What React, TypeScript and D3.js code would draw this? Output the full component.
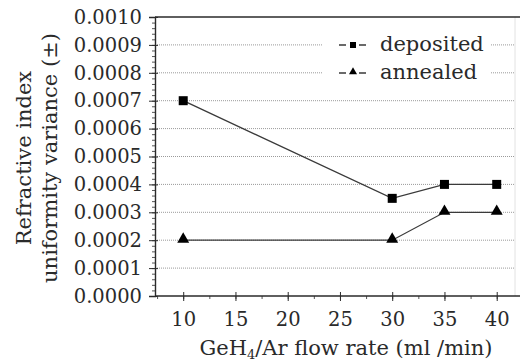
import { useEffect, useRef } from 'react';
import * as d3 from 'd3';

const flowRates = [10, 30, 35, 40];
const deposited = [0.0007, 0.00035, 0.0004, 0.0004];
const annealed = [0.0002, 0.0002, 0.0003, 0.0003];
const xTicks = [10, 15, 20, 25, 30, 35, 40];
const yTicks = [0, 0.0001, 0.0002, 0.0003, 0.0004, 0.0005, 0.0006, 0.0007, 0.0008, 0.0009, 0.001];
const seriesNames = ['deposited', 'annealed'];

const FONT = '"DejaVu Serif", "Liberation Serif", serif';
const TICK_FS = 19.5;
const LABEL_FS = 21;
const INK = '#2a2a2a';

const App = () => {
  const svgRef = useRef<SVGSVGElement | null>(null);

  useEffect(() => {
    if (!svgRef.current) return;
    const svg = d3.select(svgRef.current);
    svg.selectAll('*').remove();

    const left = 155, right = 515, top = 17, bottom = 296;

    const x = d3.scaleLinear().domain([7.3, 41.75]).range([left, right]);
    const y = d3.scaleLinear().domain([0, 0.001]).range([bottom, top]);

    // white background
    svg.append('rect').attr('width', 520).attr('height', 363).attr('fill', '#fff');

    // dotted gridlines
    svg.append('g')
      .selectAll('line')
      .data(yTicks.filter(t => t > 0 && t < 0.001))
      .enter()
      .append('line')
      .attr('x1', left)
      .attr('x2', right)
      .attr('y1', d => y(d))
      .attr('y2', d => y(d))
      .attr('stroke', '#9a9a9a')
      .attr('stroke-width', 1)
      .attr('stroke-dasharray', '1,1');

    // faint right border
    svg.append('line')
      .attr('x1', right).attr('x2', right)
      .attr('y1', top).attr('y2', bottom)
      .attr('stroke', '#e2e2e2');

    // top frame line
    svg.append('line')
      .attr('x1', left).attr('x2', 520)
      .attr('y1', top).attr('y2', top)
      .attr('stroke', INK).attr('stroke-width', 1.4);

    // legend box hides the grid
    svg.append('rect')
      .attr('x', 323).attr('y', 30).attr('width', 168).attr('height', 56)
      .attr('fill', '#fff');

    // y axis with minor ticks
    const yMinor = d3.range(0, 0.001 + 1e-9, 0.00002);
    svg.append('g')
      .attr('transform', `translate(${left},0)`)
      .call(d3.axisLeft(y).tickValues(yMinor).tickSize(3).tickFormat(() => ''))
      .call(g => g.select('.domain').remove())
      .call(g => g.selectAll('line').attr('stroke', '#555'));

    svg.append('g')
      .attr('transform', `translate(${left},0)`)
      .call(d3.axisLeft(y).tickValues(yTicks).tickSize(6).tickPadding(7).tickFormat(d3.format('.4f')))
      .call(g => g.select('.domain').attr('stroke', INK).attr('stroke-width', 1.4))
      .call(g => g.selectAll('.tick line').attr('x2', 3).attr('x1', -6).attr('stroke', INK))
      .call(g => g.selectAll('text')
        .attr('font-family', FONT)
        .attr('font-size', TICK_FS)
        .attr('fill', INK));

    // x axis
    const xMinor = d3.range(7.5, 41.5, 2.5);
    svg.append('g')
      .attr('transform', `translate(0,${bottom})`)
      .call(d3.axisBottom(x).tickValues(xMinor).tickSize(3).tickFormat(() => ''))
      .call(g => g.select('.domain').remove())
      .call(g => g.selectAll('line').attr('stroke', '#555'));

    svg.append('g')
      .attr('transform', `translate(0,${bottom})`)
      .call(d3.axisBottom(x).tickValues(xTicks).tickSize(6).tickPadding(10))
      .call(g => g.select('.domain').attr('d', `M${left},0H520`).attr('stroke', INK).attr('stroke-width', 1.4))
      .call(g => g.selectAll('.tick line').attr('y1', -4).attr('y2', 5).attr('stroke', INK))
      .call(g => g.selectAll('text')
        .attr('font-family', FONT)
        .attr('font-size', TICK_FS)
        .attr('fill', INK));

    // axis titles
    const xt = svg.append('text')
      .attr('x', 346)
      .attr('y', 355)
      .attr('text-anchor', 'middle')
      .attr('font-family', FONT)
      .attr('font-size', LABEL_FS)
      .attr('fill', INK);
    xt.append('tspan').text('GeH');
    xt.append('tspan').attr('font-size', 13).attr('dy', 4).text('4');
    xt.append('tspan').attr('dy', -4).text('/Ar flow rate (ml /min)');

    const yl = svg.append('g').attr('transform', 'translate(0,158) rotate(-90)');
    yl.append('text')
      .attr('x', 0).attr('y', 31)
      .attr('text-anchor', 'middle')
      .attr('font-family', FONT).attr('font-size', LABEL_FS).attr('fill', INK)
      .text('Refractive index');
    yl.append('text')
      .attr('x', 0).attr('y', 57)
      .attr('text-anchor', 'middle')
      .attr('font-family', FONT).attr('font-size', LABEL_FS).attr('fill', INK)
      .text('uniformity variance (±)');

    // series lines
    const line = d3.line<number>()
      .x((_, i) => x(flowRates[i]))
      .y(d => y(d));

    [deposited, annealed].forEach(vals => {
      svg.append('path')
        .attr('d', line(vals))
        .attr('fill', 'none')
        .attr('stroke', '#3a3a3a')
        .attr('stroke-width', 1.3);
    });

    const tri = d3.symbol().type(d3.symbolTriangle).size(62);

    svg.selectAll('.sq')
      .data(deposited)
      .enter()
      .append('rect')
      .attr('x', (_, i) => x(flowRates[i]) - 4.5)
      .attr('y', d => y(d) - 4.5)
      .attr('width', 9)
      .attr('height', 9)
      .attr('fill', '#000');

    svg.selectAll('.tri')
      .data(annealed)
      .enter()
      .append('path')
      .attr('d', tri)
      .attr('transform', (d, i) => `translate(${x(flowRates[i])},${y(d) - 1})`)
      .attr('fill', '#000');

    // legend
    const legend = svg.append('g');
    seriesNames.forEach((name, i) => {
      const ly = 45 + i * 28;
      legend.append('line')
        .attr('x1', 339).attr('x2', 366)
        .attr('y1', ly).attr('y2', ly)
        .attr('stroke', '#3a3a3a').attr('stroke-width', 1.3)
        .attr('stroke-dasharray', '7,13,7');
      if (i === 0) {
        legend.append('rect')
          .attr('x', 350).attr('y', ly - 3).attr('width', 6).attr('height', 6)
          .attr('fill', '#000');
      } else {
        legend.append('path')
          .attr('d', d3.symbol().type(d3.symbolTriangle).size(28)())
          .attr('transform', `translate(353,${ly - 1})`)
          .attr('fill', '#000');
      }
      legend.append('text')
        .attr('x', 380)
        .attr('y', ly + 6)
        .attr('font-family', FONT)
        .attr('font-size', LABEL_FS)
        .attr('fill', INK)
        .text(name);
    });
  }, []);

  return (
    <svg
      ref={svgRef}
      width={520}
      height={363}
      style={{ position: 'absolute', left: 0, top: 0, display: 'block' }}
    />
  );
};

export default App;
